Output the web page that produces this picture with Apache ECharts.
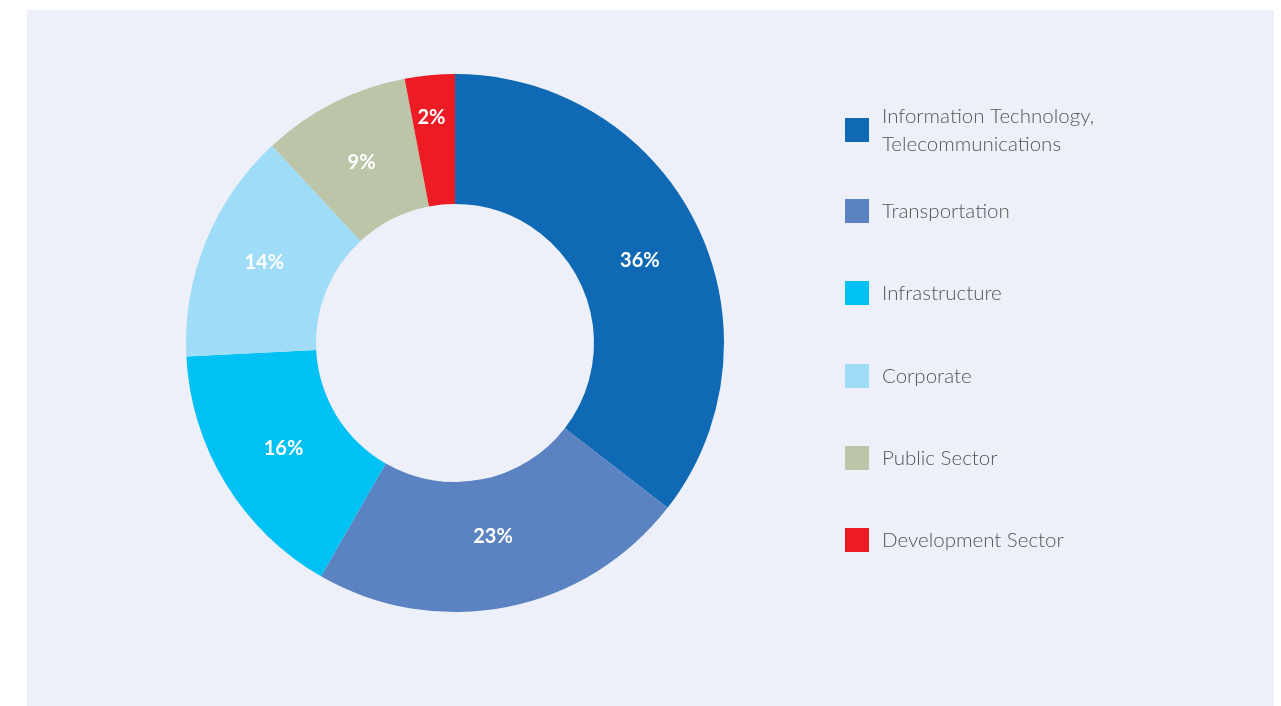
<!DOCTYPE html>
<html>
<head>
<meta charset="utf-8">
<script src="https://cdn.jsdelivr.net/npm/echarts@6/dist/echarts.min.js"></script>
<style>
html,body{margin:0;padding:0;background:#fff;}
#chart{width:1281px;height:706px;}
</style>
</head>
<body>
<div id="chart"></div>
<script>
const categories = [
  'Information Technology,\nTelecommunications',
  'Transportation',
  'Infrastructure',
  'Corporate',
  'Public Sector',
  'Development Sector'
];
const shares = [35.5, 22.8, 15.9, 13.9, 8.9, 3.0];
const shareLabels = ['36%', '23%', '16%', '14%', '9%', '2%'];
const colors = ['#0F69B4', '#5B82C1', '#00C1F3', '#9EDCF8', '#BCC5A8', '#ED1C24'];

// style only: small nudges of the in-slice labels
const labelNudge = [[-1, 9], [-2, -10], [5, -3], [1, -2], [0, 4], [-4, -19]];
const legendCenters = [130, 211, 293, 376, 458, 540];
const lineH = 28;

const chart = echarts.init(document.getElementById('chart'), null, {renderer: 'canvas'});

const legends = categories.map((name, i) => {
  const lines = name.split('\n').length;
  const half = Math.max(12, lines * lineH / 2);
  return {
    data: [name],
    orient: 'vertical',
    left: 845,
    top: legendCenters[i] - half,
    padding: 0,
    icon: 'rect',
    itemWidth: 24,
    itemHeight: 24,
    itemGap: 0,
    selectedMode: false,
    textStyle: {
      fontFamily: 'Lato',
      fontWeight: 300,
      fontSize: 20.5,
      lineHeight: lineH,
      color: '#555555',
      padding: [0, 0, 0, 8]
    }
  };
});

chart.setOption({
  animation: false,
  backgroundColor: '#ffffff',
  color: colors,
  graphic: [{
    type: 'rect',
    z: -10,
    shape: {x: 27, y: 10, width: 1247, height: 696},
    style: {fill: '#EDF0F8'}
  }],
  legend: legends,
  series: [{
    type: 'pie',
    center: [455, 343],
    radius: [139, 269],
    startAngle: 90,
    clockwise: true,
    avoidLabelOverlap: false,
    label: {
      show: true,
      position: 'inside',
      formatter: p => shareLabels[p.dataIndex],
      color: '#ffffff',
      fontFamily: 'Lato',
      fontWeight: 'bold',
      fontSize: 20
    },
    labelLine: {show: false},
    emphasis: {disabled: true},
    itemStyle: {borderWidth: 0},
    data: categories.map((n, i) => ({
      name: n,
      value: shares[i],
      label: {offset: labelNudge[i]}
    }))
  }]
});
</script>
</body>
</html>
